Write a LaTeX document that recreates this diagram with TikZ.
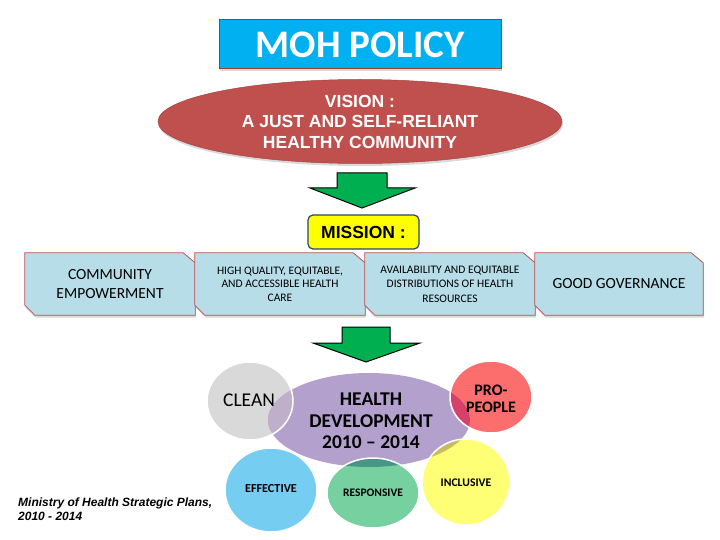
\documentclass[tikz,border=0pt]{standalone}
\usepackage{fontspec}
\setmainfont{Carlito}
\newfontfamily\arialf{Liberation Sans}
\usetikzlibrary{shapes.geometric,shadows}
\definecolor{titlecyan}{RGB}{0,176,240}
\definecolor{titleborder}{RGB}{150,60,60}
\definecolor{visionred}{RGB}{192,80,77}
\definecolor{arrowgreen}{RGB}{0,176,80}
\definecolor{missionyellow}{RGB}{255,255,0}
\definecolor{missionborder}{RGB}{40,70,110}
\definecolor{boxblue}{RGB}{183,221,232}
\definecolor{boxborder}{RGB}{192,80,77}
\definecolor{cleangray}{RGB}{217,217,217}
\definecolor{hdpurple}{RGB}{180,160,205}
\definecolor{propink}{RGB}{252,110,110}
\definecolor{effblue}{RGB}{118,205,242}
\definecolor{respgreen}{RGB}{118,208,160}
\definecolor{inclyellow}{RGB}{255,255,118}
\definecolor{cleanhd}{RGB}{192,175,203}
\definecolor{prohd}{RGB}{215,65,105}
\definecolor{effhd}{RGB}{60,130,205}
\definecolor{resphd}{RGB}{72,150,135}
\definecolor{inclhd}{RGB}{200,188,95}
\tikzset{
  softshadow/.style={drop shadow={opacity=0.3,shadow xshift=1pt,shadow yshift=-2.5pt}},
  greenarrow/.style={fill=arrowgreen,draw=black,line width=1pt,line join=miter},
  mboxtext/.style={inner sep=0pt,align=center,text=black},
  mboxline/.style={fill=boxblue,draw=boxborder,line width=0.8pt,softshadow},
  bubble/.style={draw=white,line width=1.5pt},
  btext/.style={inner sep=0pt,align=center,text=black,font=\bfseries},
}
\begin{document}
\begin{tikzpicture}[x=1pt,y=-1pt]
\useasboundingbox (0,0) rectangle (720,540);
% title
\node[rectangle,minimum width=282pt,minimum height=49pt,fill=titlecyan,draw=titleborder,line width=1pt,
  text=white,font=\fontsize{39}{39}\selectfont\bfseries,inner sep=0pt,softshadow] (title) at (360,44.5) {MOH POLICY};
% vision
\node[ellipse,minimum width=404pt,minimum height=84pt,inner sep=0pt,fill=visionred,draw=visionred!85!black,line width=0.5pt,softshadow,
  text=white,align=center,font=\arialf\fontsize{17.5}{20.5}\selectfont\bfseries] (vision) at (360,121.5)
  {VISION :\\A JUST AND SELF-RELIANT\\HEALTHY COMMUNITY};
% arrow 1
\draw[greenarrow] (337,173) -- (387,173) -- (387,188) -- (415,188) -- (362,208) -- (310,188) -- (337,188) -- cycle;
% mission label
\node[rectangle,rounded corners=5pt,minimum width=111pt,minimum height=34pt,inner sep=0pt,fill=missionyellow,
  draw=missionborder,line width=1.2pt,font=\arialf\fontsize{17.5}{17.5}\selectfont\bfseries] (mission) at (363.5,232) {MISSION :};
% mission boxes
\foreach \n/\cx/\w in {m1/110/170,m2/280/170,m3/450/170,m4/619/168}{
  \path (\cx,284) node[minimum width=\w pt,minimum height=62pt,inner sep=0pt] (\n) {};
  \draw[mboxline] (\n.north west) -- ([xshift=-12pt]\n.north east) -- ([yshift=-10pt]\n.north east)
     -- (\n.south east) -- ([xshift=10pt]\n.south west) -- ([yshift=10pt]\n.south west) -- cycle;
}
\node[mboxtext,font=\fontsize{15.5}{19}\selectfont] (t1) at (m1) {COMMUNITY\\EMPOWERMENT};
\node[mboxtext,font=\fontsize{11.5}{13.5}\selectfont] (t2) at (m2) {HIGH QUALITY, EQUITABLE,\\AND ACCESSIBLE HEALTH\\CARE};
\node[mboxtext,font=\fontsize{11.5}{14.5}\selectfont] (t3) at (m3) {AVAILABILITY AND EQUITABLE\\DISTRIBUTIONS OF HEALTH\\RESOURCES};
\node[mboxtext,font=\fontsize{15.5}{19}\selectfont] (t4) at (m4) {GOOD GOVERNANCE};
% arrow 2
\draw[greenarrow] (342,327) -- (390,327) -- (390,343) -- (420,343) -- (366,362) -- (313,343) -- (342,343) -- cycle;
% bubbles back
\fill[cleangray] (250,401) ellipse[x radius=43,y radius=39];
\fill[propink] (491,397) ellipse[x radius=41,y radius=36];
\fill[hdpurple] (369,420) ellipse[x radius=101,y radius=47];
\begin{scope}
  \clip (250,401) ellipse[x radius=43,y radius=39];
  \fill[cleanhd] (369,420) ellipse[x radius=101,y radius=47];
\end{scope}
\begin{scope}
  \clip (491,397) ellipse[x radius=41,y radius=36];
  \fill[prohd] (369,420) ellipse[x radius=101,y radius=47];
\end{scope}
\draw[bubble] (250,401) ellipse[x radius=43,y radius=39];
\draw[bubble] (491,397) ellipse[x radius=41,y radius=36];
% bubbles front
\fill[effblue] (271,490) ellipse[x radius=46,y radius=42];
\fill[respgreen] (373,493) ellipse[x radius=46,y radius=35];
\fill[inclyellow] (466,482) ellipse[x radius=44,y radius=43];
\begin{scope}
  \clip (271,490) ellipse[x radius=46,y radius=42];
  \fill[effhd] (369,420) ellipse[x radius=101,y radius=47];
\end{scope}
\begin{scope}
  \clip (373,493) ellipse[x radius=46,y radius=35];
  \fill[resphd] (369,420) ellipse[x radius=101,y radius=47];
\end{scope}
\begin{scope}
  \clip (466,482) ellipse[x radius=44,y radius=43];
  \fill[inclhd] (369,420) ellipse[x radius=101,y radius=47];
\end{scope}
\draw[bubble] (271,490) ellipse[x radius=46,y radius=42];
\draw[bubble] (373,493) ellipse[x radius=46,y radius=35];
\draw[bubble] (466,482) ellipse[x radius=44,y radius=43];
% bubble texts
\node[inner sep=0pt,font=\fontsize{19.5}{19.5}\selectfont] (clean) at (249,400) {CLEAN};
\node[btext,font=\fontsize{19.5}{21.5}\selectfont\bfseries] (hd) at (371,421) {HEALTH\\DEVELOPMENT\\2010 -- 2014};
\node[btext,font=\fontsize{16}{17}\selectfont\bfseries] (pro) at (491,398.5) {PRO-\\PEOPLE};
\node[btext,font=\fontsize{12.2}{12.2}\selectfont\bfseries] (eff) at (271,489) {EFFECTIVE};
\node[btext,font=\fontsize{11.5}{11.5}\selectfont\bfseries] (resp) at (373,493) {RESPONSIVE};
\node[btext,font=\fontsize{11.7}{11.7}\selectfont\bfseries] (incl) at (466,483) {INCLUSIVE};
% caption
\node[anchor=west,inner sep=0pt,align=left,font=\arialf\fontsize{12}{14}\selectfont\bfseries\itshape] (cap) at (18,509)
  {Ministry of Health Strategic Plans,\\2010 - 2014};
\end{tikzpicture}
\end{document}
